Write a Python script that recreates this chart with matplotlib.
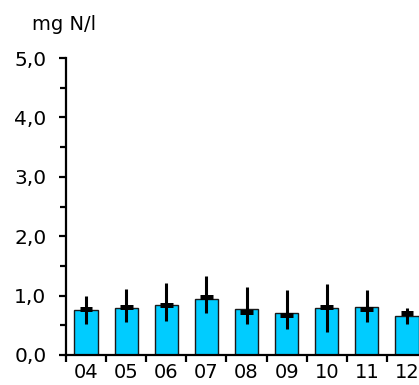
import numpy as np
import matplotlib
matplotlib.use("Agg")
import matplotlib.pyplot as plt
from matplotlib.ticker import MultipleLocator, FixedLocator, FuncFormatter

plt.rcParams['font.family'] = ['DejaVu Sans']

# data
years = ["04", "05", "06", "07", "08", "09", "10", "11", "12"]
mean_vals = [0.76, 0.79, 0.84, 0.95, 0.77, 0.70, 0.79, 0.80, 0.66]
median_vals = [0.78, 0.80, 0.85, 0.97, 0.72, 0.67, 0.81, 0.77, 0.70]
err_high = [0.99, 1.11, 1.21, 1.33, 1.15, 1.09, 1.20, 1.09, 0.79]
err_low = [0.52, 0.55, 0.58, 0.71, 0.52, 0.44, 0.38, 0.56, 0.53]

fig = plt.figure(figsize=(4.19, 3.85), dpi=100)
ax = fig.add_axes([66 / 419, 1 - 355 / 385, 1 - 66 / 419, (355 - 58) / 385])

x = np.arange(len(years))
ax.bar(x, mean_vals, width=0.58, color="#00CCFF", edgecolor="#1a1a1a", linewidth=1.0, zorder=2)
ax.vlines(x, err_low, err_high, color="black", linewidth=2.2, zorder=3)
ax.hlines(median_vals, x - 0.16, x + 0.16, color="black", linewidth=3.6, zorder=4)

ax.set_xlim(-0.5, 8.3)
ax.set_ylim(0, 5)

for s in ["top", "right"]:
    ax.spines[s].set_visible(False)
for s in ["left", "bottom"]:
    ax.spines[s].set_linewidth(1.6)

# y axis
ax.yaxis.set_major_locator(MultipleLocator(1))
ax.yaxis.set_minor_locator(MultipleLocator(0.5))
ax.yaxis.set_major_formatter(FuncFormatter(lambda v, p: ("%.1f" % v).replace(".", ",")))
ax.tick_params(axis="y", which="major", length=5, width=1.6, labelsize=14.5, pad=9, direction="out")
ax.tick_params(axis="y", which="minor", length=4, width=1.6, direction="out")

# x axis: ticks between categories, labels at centers
ax.xaxis.set_major_locator(FixedLocator(np.arange(-0.5, 8.0, 1.0)))
ax.xaxis.set_major_formatter(FuncFormatter(lambda v, p: ""))
ax.xaxis.set_minor_locator(FixedLocator(x))
ax.set_xticklabels(years, minor=True)
ax.tick_params(axis="x", which="major", length=5, width=1.6, direction="out")
ax.tick_params(axis="x", which="minor", length=0, labelsize=14, pad=5.5)

fig.text(64 / 419, 1 - 29.5 / 385, "mg N/l", ha="center", va="baseline", fontsize=14)

fig.savefig("out.png", dpi=100)
